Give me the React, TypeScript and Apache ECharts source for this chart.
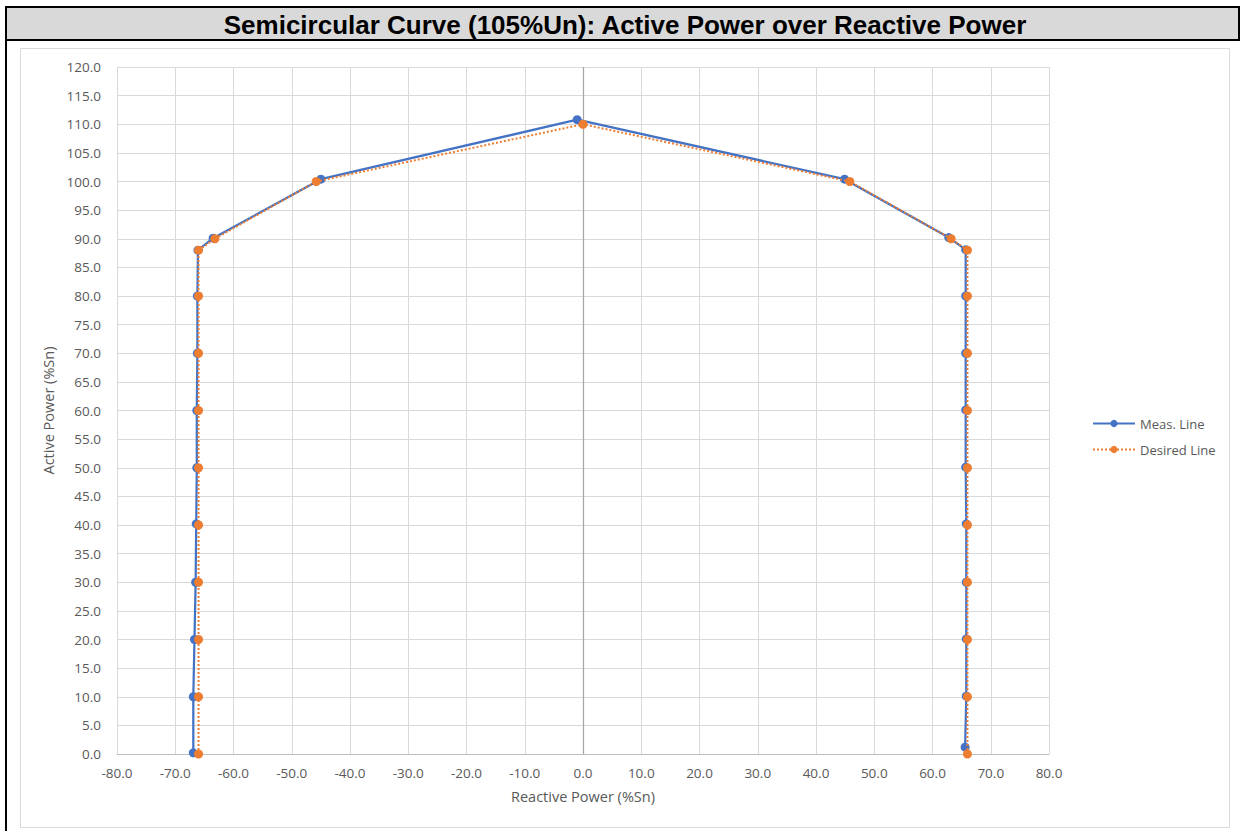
import React, { useEffect, useRef } from "react";
import * as echarts from "echarts";

const TITLE = "Semicircular Curve (105%Un): Active Power over Reactive Power";
const X_NAME = "Reactive Power (%Sn)";
const Y_NAME = "Active Power (%Sn)";
const SERIES_NAMES = ["Meas. Line", "Desired Line"];

// Measured line: reactive power (x) and active power (y)
const measQ = [-66.9, -66.9, -66.7, -66.5, -66.4, -66.3, -66.3, -66.2, -66.2, -66.1, -63.5, -45.0, -1.0, 44.9, 62.8, 65.7, 65.7, 65.7, 65.7, 65.7, 65.8, 65.8, 65.8, 65.8, 65.6];
const measP = [0.2, 10.0, 20.0, 30.0, 40.2, 50.0, 60.0, 70.0, 80.0, 88.0, 90.1, 100.4, 110.8, 100.4, 90.2, 88.1, 80.0, 70.0, 60.1, 50.1, 40.2, 30.0, 20.1, 10.1, 1.2];

// Desired line
const desQ = [-66.0, -66.0, -66.0, -66.0, -66.0, -66.0, -66.0, -66.0, -66.0, -66.0, -63.2, -45.8, 0.0, 45.8, 63.2, 66.0, 66.0, 66.0, 66.0, 66.0, 66.0, 66.0, 66.0, 66.0, 66.0];
const desP = [0, 10, 20, 30, 40, 50, 60, 70, 80, 88, 90, 100, 110, 100, 90, 88, 80, 70, 60, 50, 40, 30, 20, 10, 0];

const X_MIN = -80, X_MAX = 80, X_STEP = 10;
const Y_MIN = 0, Y_MAX = 120, Y_STEP = 5;

const FONT = "'Open Sans', 'Liberation Sans', sans-serif";
const GRAY_TEXT = "#595959";

export default function App() {
  const ref = useRef<HTMLDivElement>(null);
  useEffect(() => {
    document.body.style.margin = "0";
    const chart = echarts.init(ref.current!, null, { renderer: "svg" });
    const pairs = (xs: number[], ys: number[]) => xs.map((x, i) => [x, ys[i]]);
    chart.setOption({
      animation: false,
      backgroundColor: "#ffffff",
      graphic: [
        { type: "rect", z: -10, shape: { x: 20.5, y: 48.5, width: 1209, height: 779 }, style: { fill: "#ffffff", stroke: "#d9d9d9", lineWidth: 1 } },
        { type: "rect", z: -10, shape: { x: 6, y: 7, width: 1233, height: 33 }, style: { fill: "#d9d9d9", stroke: "#000000", lineWidth: 2 } },
        { type: "line", z: -9, shape: { x1: 6, y1: 7, x2: 6, y2: 831 }, style: { stroke: "#000000", lineWidth: 2 } },
        {
          type: "text", z: 10, x: 625, y: 25,
          style: { text: TITLE, fill: "#000000", font: "bold 26px 'Liberation Sans', Arial, sans-serif", textAlign: "center", textVerticalAlign: "middle" },
        },
      ],
      grid: { left: 117, right: 193, top: 67, bottom: 77, containLabel: false, outerBoundsMode: "none" },
      legend: {
        orient: "vertical", left: 1087, top: 412, itemWidth: 42, itemHeight: 9, itemGap: 13,
        textStyle: { fontFamily: FONT, fontSize: 13, color: GRAY_TEXT },
        data: SERIES_NAMES,
      },
      xAxis: {
        type: "value", min: X_MIN, max: X_MAX, interval: X_STEP,
        name: X_NAME, nameLocation: "middle", nameGap: 35,
        nameTextStyle: { fontFamily: FONT, fontSize: 14.5, color: GRAY_TEXT },
        axisLine: { show: true, lineStyle: { color: "#bfbfbf", width: 1 } },
        axisTick: { show: false },
        axisLabel: { fontFamily: FONT, fontSize: 13.5, color: GRAY_TEXT, margin: 12, formatter: (v: number) => v.toFixed(1) },
        splitLine: { show: true, lineStyle: { color: "#d9d9d9", width: 1 } },
      },
      yAxis: {
        type: "value", min: Y_MIN, max: Y_MAX, interval: Y_STEP,
        name: Y_NAME, nameLocation: "middle", nameGap: 57, nameRotate: 90,
        nameTextStyle: { fontFamily: FONT, fontSize: 14.5, color: GRAY_TEXT },
        axisLine: { show: false, onZero: false },
        axisTick: { show: false },
        axisLabel: { fontFamily: FONT, fontSize: 13.5, color: GRAY_TEXT, margin: 16, formatter: (v: number) => v.toFixed(1) },
        splitLine: { show: true, lineStyle: { color: "#d9d9d9", width: 1 } },
      },
      series: [
        {
          name: SERIES_NAMES[0], type: "line", data: pairs(measQ, measP),
          symbol: "circle", symbolSize: 9, z: 3,
          itemStyle: { color: "#4472c4" },
          lineStyle: { color: "#4472c4", width: 2.25 },
          markLine: {
            silent: true, symbol: "none", z: 1,
            label: { show: false },
            lineStyle: { color: "#a6a6a6", width: 1.25, type: "solid" },
            data: [{ xAxis: 0 }],
          },
        },
        {
          name: SERIES_NAMES[1], type: "line", data: pairs(desQ, desP),
          symbol: "circle", symbolSize: 9, z: 4,
          itemStyle: { color: "#ed7d31" },
          lineStyle: { color: "#ed7d31", width: 2, type: [2, 2] },
        },
      ],
    });
    return () => chart.dispose();
  }, []);
  return <div ref={ref} style={{ width: 1242, height: 831 }} />;
}
